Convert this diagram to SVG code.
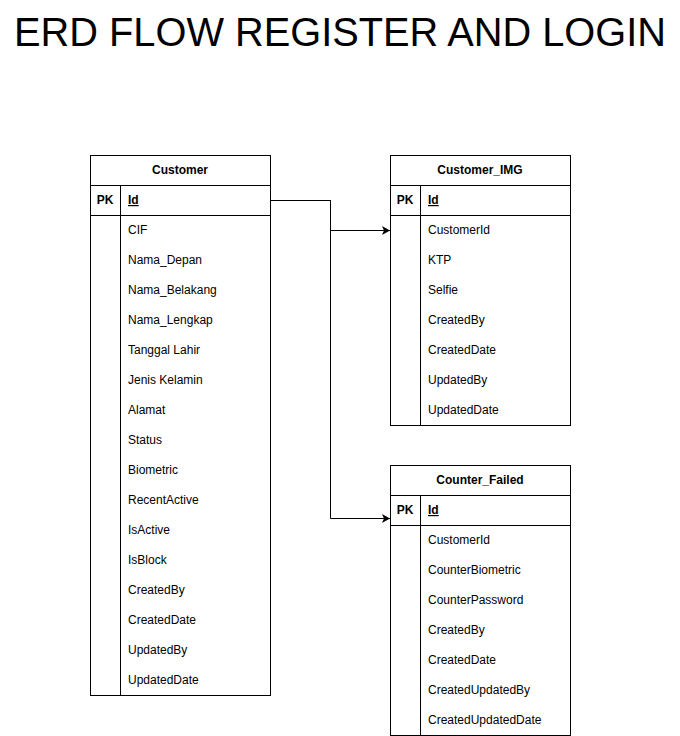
<svg xmlns="http://www.w3.org/2000/svg" width="680" height="736" viewBox="0 0 680 736">
<defs>
<style>
.box{fill:#fff;stroke:#000;stroke-width:1}
.ln{stroke:#000;stroke-width:1;fill:none}
.t{font-family:"Liberation Sans",Arial,sans-serif;font-size:12px;fill:#000}
.h{font-family:"Liberation Sans",Arial,sans-serif;font-size:12px;font-weight:bold;fill:#000;text-anchor:middle}
.pk{font-family:"Liberation Sans",Arial,sans-serif;font-size:12px;font-weight:bold;fill:#000;text-anchor:middle}
.id{font-weight:bold;text-decoration:underline}
.title{font-family:"Liberation Sans",Arial,sans-serif;font-size:40px;fill:#000;text-anchor:middle}
</style>
<marker id="arr" markerWidth="10" markerHeight="10" refX="8" refY="4.5" orient="auto" markerUnits="userSpaceOnUse">
<path d="M0,0 L8,4.5 L0,9 L2,4.5 Z" fill="#000"/>
</marker>
</defs>
<rect width="680" height="736" fill="#fff"/>
<text class="title" x="340" y="46" textLength="652" lengthAdjust="spacingAndGlyphs">ERD FLOW REGISTER AND LOGIN</text>

<g id="connectors">
<path class="ln" d="M270,200.5 L330.5,200.5 L330.5,230.5 L390,230.5" marker-end="url(#arr)"/>
<path class="ln" d="M270,200.5 L330.5,200.5 L330.5,518.5 L390,518.5" marker-end="url(#arr)"/>
<path class="ln" d="M270.5,196 L270.5,204"/>
</g>

<g id="customer">
<rect class="box" x="90.5" y="155.5" width="180" height="540"/>
<line class="ln" x1="90.5" y1="185.5" x2="270.5" y2="185.5"/>
<line class="ln" x1="90.5" y1="215.5" x2="270.5" y2="215.5"/>
<line class="ln" x1="120.5" y1="185.5" x2="120.5" y2="695.5"/>
<text class="h" x="180" y="174">Customer</text>
<text class="pk" x="105" y="204">PK</text>
<text class="t id" x="128" y="204">Id</text>
<text class="t" x="128" y="234">CIF</text>
<text class="t" x="128" y="264">Nama_Depan</text>
<text class="t" x="128" y="294">Nama_Belakang</text>
<text class="t" x="128" y="324">Nama_Lengkap</text>
<text class="t" x="128" y="354">Tanggal Lahir</text>
<text class="t" x="128" y="384">Jenis Kelamin</text>
<text class="t" x="128" y="414">Alamat</text>
<text class="t" x="128" y="444">Status</text>
<text class="t" x="128" y="474">Biometric</text>
<text class="t" x="128" y="504">RecentActive</text>
<text class="t" x="128" y="534">IsActive</text>
<text class="t" x="128" y="564">IsBlock</text>
<text class="t" x="128" y="594">CreatedBy</text>
<text class="t" x="128" y="624">CreatedDate</text>
<text class="t" x="128" y="654">UpdatedBy</text>
<text class="t" x="128" y="684">UpdatedDate</text>
</g>

<g id="customer_img">
<rect class="box" x="390.5" y="155.5" width="180" height="270"/>
<line class="ln" x1="390.5" y1="185.5" x2="570.5" y2="185.5"/>
<line class="ln" x1="390.5" y1="215.5" x2="570.5" y2="215.5"/>
<line class="ln" x1="420.5" y1="185.5" x2="420.5" y2="425.5"/>
<text class="h" x="480" y="174">Customer_IMG</text>
<text class="pk" x="405" y="204">PK</text>
<text class="t id" x="428" y="204">Id</text>
<text class="t" x="428" y="234">CustomerId</text>
<text class="t" x="428" y="264">KTP</text>
<text class="t" x="428" y="294">Selfie</text>
<text class="t" x="428" y="324">CreatedBy</text>
<text class="t" x="428" y="354">CreatedDate</text>
<text class="t" x="428" y="384">UpdatedBy</text>
<text class="t" x="428" y="414">UpdatedDate</text>
</g>

<g id="counter_failed">
<rect class="box" x="390.5" y="465.5" width="180" height="270"/>
<line class="ln" x1="390.5" y1="495.5" x2="570.5" y2="495.5"/>
<line class="ln" x1="390.5" y1="525.5" x2="570.5" y2="525.5"/>
<line class="ln" x1="420.5" y1="495.5" x2="420.5" y2="735.5"/>
<text class="h" x="480" y="484">Counter_Failed</text>
<text class="pk" x="405" y="514">PK</text>
<text class="t id" x="428" y="514">Id</text>
<text class="t" x="428" y="544">CustomerId</text>
<text class="t" x="428" y="574">CounterBiometric</text>
<text class="t" x="428" y="604">CounterPassword</text>
<text class="t" x="428" y="634">CreatedBy</text>
<text class="t" x="428" y="664">CreatedDate</text>
<text class="t" x="428" y="694">CreatedUpdatedBy</text>
<text class="t" x="428" y="724">CreatedUpdatedDate</text>
</g>
</svg>
